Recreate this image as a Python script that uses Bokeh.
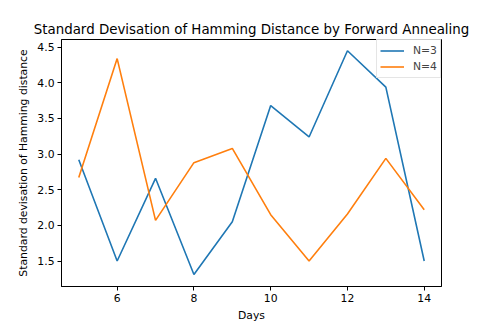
from bokeh.plotting import figure
from bokeh.models import Range1d, Legend, LegendItem, FixedTicker, CustomJSTickFormatter
from bokeh.embed import file_html
from bokeh.resources import INLINE

days = [5, 6, 7, 8, 9, 10, 11, 12, 13, 14]
n3 = [2.92, 1.50, 2.66, 1.31, 2.05, 3.68, 3.24, 4.45, 3.94, 1.50]
n4 = [2.67, 4.34, 2.07, 2.88, 3.08, 2.15, 1.50, 2.16, 2.94, 2.22]
series_names = ["N=3", "N=4"]
x_ticks = [6, 8, 10, 12, 14]
y_ticks = [1.5, 2.0, 2.5, 3.0, 3.5, 4.0, 4.5]

FONT = "DejaVu Sans"

p = figure(output_backend="svg", toolbar_location=None,
           frame_width=380, frame_height=247,
           min_border_left=61, min_border_right=49,
           min_border_top=39, min_border_bottom=41,
           title="Standard Devisation of Hamming Distance by Forward Annealing",
           x_range=Range1d(4.55, 14.45), y_range=Range1d(1.1425, 4.6075))

p.title.text_font = FONT
p.title.text_font_size = "13.4px"
p.title.text_font_style = "normal"
p.title.align = "center"
p.title.text_color = "black"
p.title.standoff = 6

l1 = p.line(days, n3, line_color="#1f77b4", line_width=1.6)
l2 = p.line(days, n4, line_color="#ff7f0e", line_width=1.6)

p.grid.visible = False
p.outline_line_color = "black"
p.outline_line_width = 1
p.background_fill_color = "white"
p.border_fill_color = "white"

for ax in (p.xaxis[0], p.yaxis[0]):
    ax.major_label_text_font = FONT
    ax.major_label_text_font_size = "10.8px"
    ax.major_label_text_color = "black"
    ax.axis_label_text_font = FONT
    ax.axis_label_text_font_size = "10.8px"
    ax.axis_label_text_font_style = "normal"
    ax.axis_label_text_color = "black"
    ax.axis_line_color = "black"
    ax.major_tick_line_color = "black"
    ax.major_tick_out = 4
    ax.major_tick_in = 0
    ax.minor_tick_line_color = None
    ax.major_label_standoff = 3
    ax.axis_label_standoff = 4

p.xaxis.ticker = FixedTicker(ticks=x_ticks)
p.yaxis.ticker = FixedTicker(ticks=y_ticks)
p.yaxis.formatter = CustomJSTickFormatter(code="return tick.toFixed(1);")
p.xaxis.axis_label = "Days"
p.yaxis.axis_label = "Standard devisation of Hamming distance"

legend = Legend(items=[LegendItem(label=series_names[0], renderers=[l1]),
                       LegendItem(label=series_names[1], renderers=[l2])],
                location="top_right")
legend.label_text_font = FONT
legend.label_text_font_size = "10.8px"
legend.border_line_color = "#cccccc"
legend.background_fill_alpha = 0.8
legend.margin = 0
legend.padding = 3
legend.spacing = 1
legend.glyph_width = 24
legend.glyph_height = 15
legend.label_height = 15
legend.label_standoff = 9
legend.label_text_baseline = "middle"
p.add_layout(legend)

open("out.html", "w").write(file_html(p, INLINE))
